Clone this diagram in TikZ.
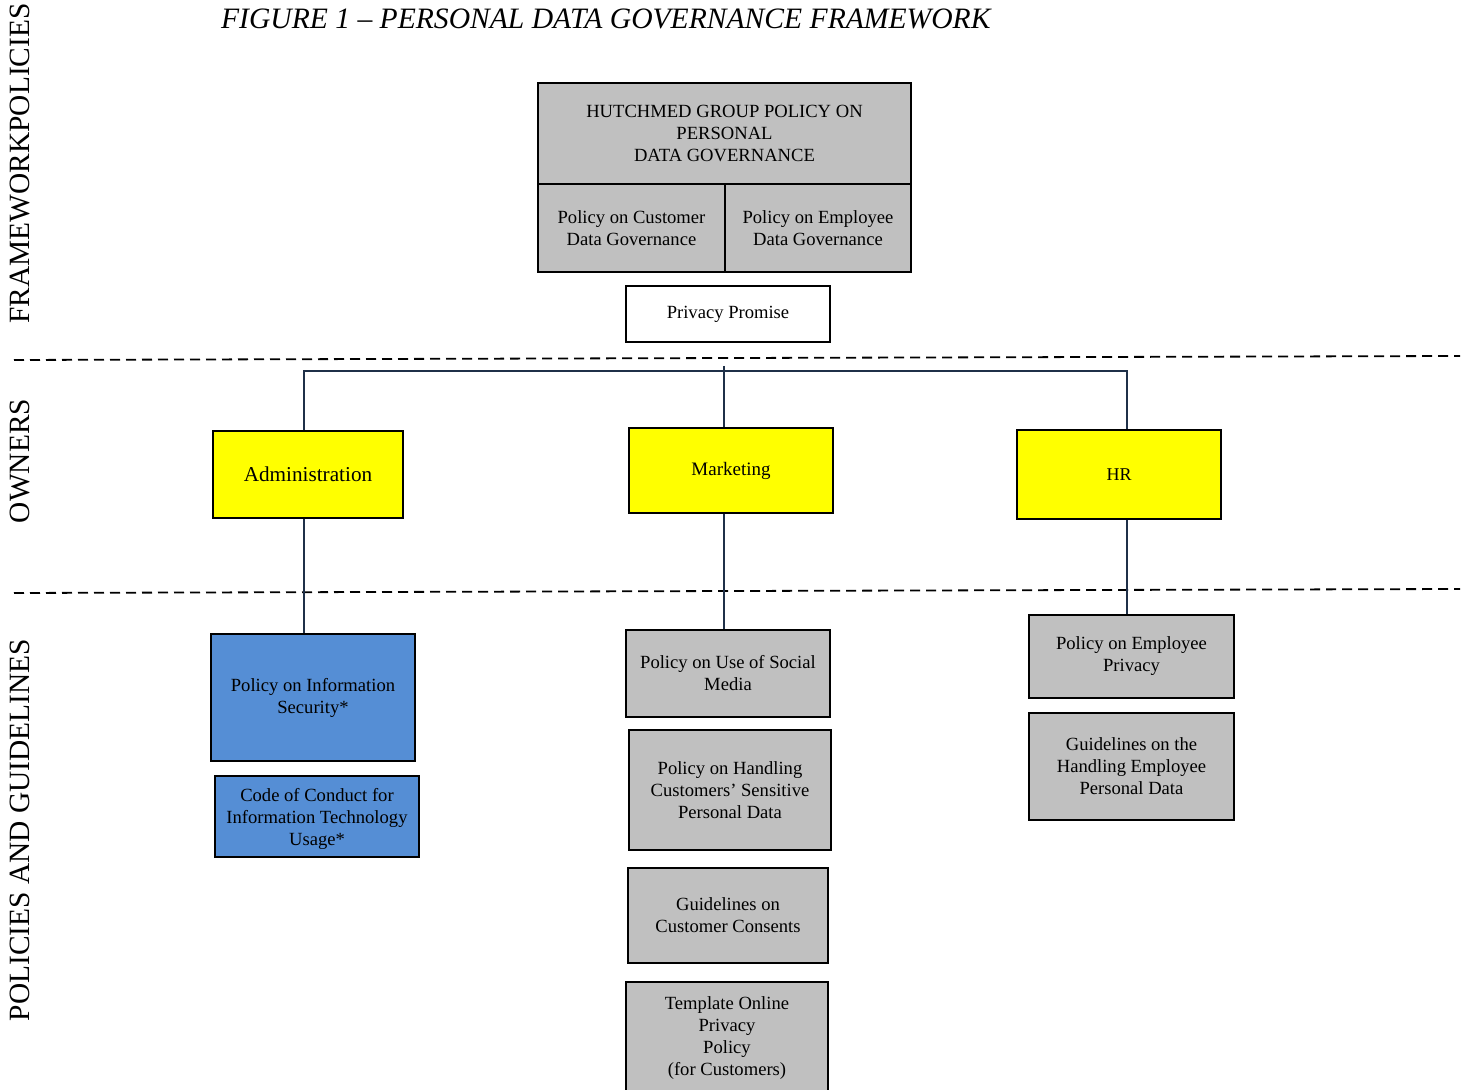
\documentclass[tikz,border=0pt]{standalone}
\usepackage{fontspec}
\setmainfont{Liberation Serif}
\definecolor{boxgray}{HTML}{C0C0C0}
\definecolor{owneryellow}{HTML}{FFFF00}
\definecolor{secblue}{HTML}{558ED5}
\definecolor{linkcol}{HTML}{1F3048}
\begin{document}
\begin{tikzpicture}[x=0.5pt,y=-0.5pt,
  box/.style={draw=black,line width=0.7pt,align=center,inner sep=1pt,
    font=\fontsize{9.3}{11}\selectfont},
  graybox/.style={box,fill=boxgray},
  bluebox/.style={box,fill=secblue},
  ownerbox/.style={box,fill=owneryellow},
  link/.style={draw=linkcol,line width=0.9pt},
  sep/.style={line width=0.9pt,dash pattern=on 5pt off 3pt},
  sidelabel/.style={rotate=90,font=\fontsize{14.7}{17}\selectfont}]
\useasboundingbox (0,0) rectangle (1463,1090);
\node[anchor=base west,font=\fontsize{14.8}{17}\selectfont\itshape] (title) at (214,29)
  {FIGURE 1 -- PERSONAL DATA GOVERNANCE FRAMEWORK};
\node[sidelabel] (lframe) at (20,163.5) {FRAMEWORKPOLICIES};
\node[sidelabel] (lown) at (20,461) {OWNERS};
\node[sidelabel] (lpol) at (20,830) {POLICIES AND GUIDELINES};
\draw[sep] (14,360) -- (1460,356);
\draw[sep] (14,593) -- (1460,589);
\node[graybox,minimum width=186.5pt,minimum height=50.5pt] (gov) at (724.5,133.5)
  {HUTCHMED GROUP POLICY ON\\PERSONAL\\DATA GOVERNANCE};
\node[graybox,minimum width=93.5pt,minimum height=44pt] (cust) at (631.5,228)
  {Policy on Customer\\Data Governance};
\node[graybox,minimum width=93pt,minimum height=44pt] (empl) at (818,228)
  {Policy on Employee\\Data Governance};
\node[box,minimum width=102pt,minimum height=28pt] (promise) at (728,314) {Privacy Promise};
\node[ownerbox,minimum width=95pt,minimum height=43.5pt,font=\fontsize{10.6}{12}\selectfont] (admin) at (308,474.5) {Administration};
\node[ownerbox,minimum width=102pt,minimum height=42.5pt,font=\fontsize{9.5}{11}\selectfont] (mkt) at (731,470.5) {Marketing};
\node[ownerbox,minimum width=102pt,minimum height=44.5pt,font=\fontsize{9}{11}\selectfont] (hr) at (1119,474.5) {HR};
\node[bluebox,minimum width=102pt,minimum height=63.5pt] (infosec) at (313,697.5)
  {Policy on Information\\Security*};
\node[bluebox,minimum width=102pt,minimum height=40.5pt] (itcode) at (317,816.5)
  {\rule{0pt}{9pt}Code of Conduct for\\Information Technology\\Usage*};
\node[graybox,minimum width=102pt,minimum height=43.5pt] (social) at (728,673.5)
  {Policy on Use of Social\\Media};
\node[graybox,minimum width=101pt,minimum height=60pt] (sensitive) at (730,790)
  {Policy on Handling\\Customers' Sensitive\\Personal Data};
\node[graybox,minimum width=100pt,minimum height=47.5pt] (consents) at (728,915.5)
  {Guidelines on\\Customer Consents};
\node[graybox,minimum width=101pt,minimum height=56pt] (template) at (727,1038)
  {Template Online\\Privacy\\Policy\\(for Customers)};
\node[graybox,minimum width=102.5pt,minimum height=41.5pt] (emppriv) at (1131.5,656.5)
  {Policy on Employee\\Privacy};
\node[graybox,minimum width=102.5pt,minimum height=53.5pt] (empguide) at (1131.5,766.5)
  {Guidelines on the\\Handling Employee\\Personal Data};
\coordinate (busL) at (304,371);
\coordinate (busM) at (724,366);
\coordinate (busR) at (1127,371);
\draw[link] (admin.north -| busL) -- (busL) -- (busR) -- (hr.north -| busR);
\draw[link] (busM) -- (busM |- mkt.north);
\draw[link] (admin.south -| busL) -- (infosec.north -| busL);
\draw[link] (mkt.south -| busM) -- (social.north -| busM);
\draw[link] (hr.south -| busR) -- (emppriv.north -| busR);
\end{tikzpicture}
\end{document}
